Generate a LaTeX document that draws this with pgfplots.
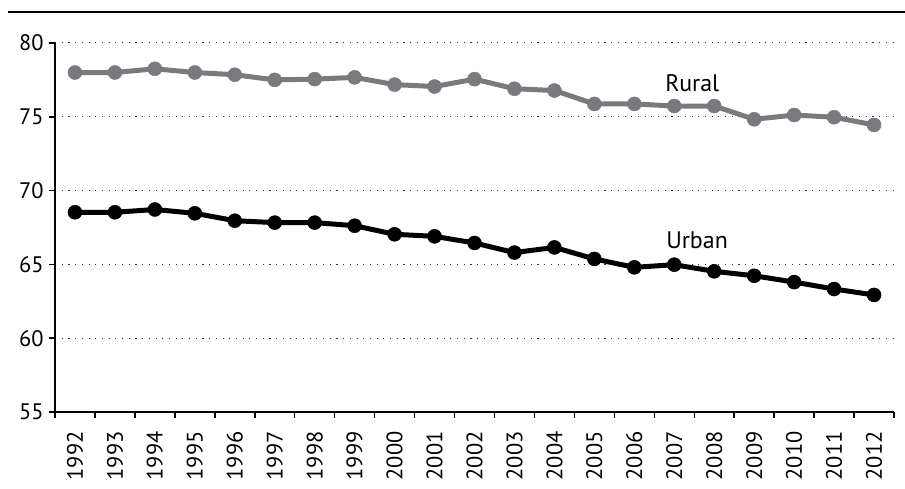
\documentclass[border=0pt]{standalone}
\usepackage{pgfplots}
\pgfplotsset{compat=1.18}
\usepackage{fontspec}
\setmainfont{PT Sans}
\definecolor{ruralgray}{RGB}{120,122,126}
\begin{document}
\begin{tikzpicture}[x=1bp,y=1bp]
\path[use as bounding box] (0,0) rectangle (905,489);
\draw[line width=2.5bp] (8,477) -- (905,477);
\begin{axis}[
  at={(55bp,77bp)}, anchor=south west,
  scale only axis, width=839bp, height=369bp,
  xmin=-0.5, xmax=20.5, ymin=55, ymax=80,
  axis x line*=bottom, axis y line*=left,
  axis line style={line width=2.2bp},
  ytick={55,60,...,80},
  xtick={-0.5,0.5,...,20.5}, xticklabels={},
  tick align=outside, major tick length=6bp,
  tick style={black, line width=1.5bp},
  ymajorgrids, grid style={black!80, line width=1bp, dash pattern=on 1.1bp off 5.6bp},
  extra x ticks={0,1,...,20},
  extra x tick labels={1992,1993,1994,1995,1996,1997,1998,1999,2000,2001,2002,2003,2004,2005,2006,2007,2008,2009,2010,2011,2012},
  extra x tick style={major tick length=0pt, xticklabel style={rotate=90, anchor=east, xshift=-16bp}},
  ticklabel style={font=\fontsize{22.5}{26}\selectfont},
  yticklabel style={xshift=-2bp},
  /pgf/number format/assume math mode=true,
  clip=false,
]
\addplot[ruralgray, line width=5bp, mark=*, mark size=7bp, mark options={fill=ruralgray, draw=ruralgray, line width=0.5bp}] coordinates {
(0,78.0) (1,78.0) (2,78.25) (3,78.0) (4,77.85) (5,77.5) (6,77.55) (7,77.67) (8,77.18) (9,77.05) (10,77.55) (11,76.9) (12,76.78) (13,75.87) (14,75.87) (15,75.73) (16,75.73) (17,74.83) (18,75.12) (19,74.97) (20,74.45)};
\addplot[black, line width=5bp, mark=*, mark size=7bp, mark options={fill=black, line width=0.5bp}] coordinates {
(0,68.53) (1,68.53) (2,68.72) (3,68.46) (4,67.96) (5,67.83) (6,67.83) (7,67.62) (8,67.04) (9,66.9) (10,66.45) (11,65.8) (12,66.15) (13,65.37) (14,64.8) (15,64.98) (16,64.53) (17,64.23) (18,63.8) (19,63.33) (20,62.93)};
\node[font=\fontsize{24}{28}\selectfont] at (axis cs:15.45,77.3) {Rural};
\node[font=\fontsize{24}{28}\selectfont] at (axis cs:15.57,66.65) {Urban};
\end{axis}
\end{tikzpicture}
\end{document}
